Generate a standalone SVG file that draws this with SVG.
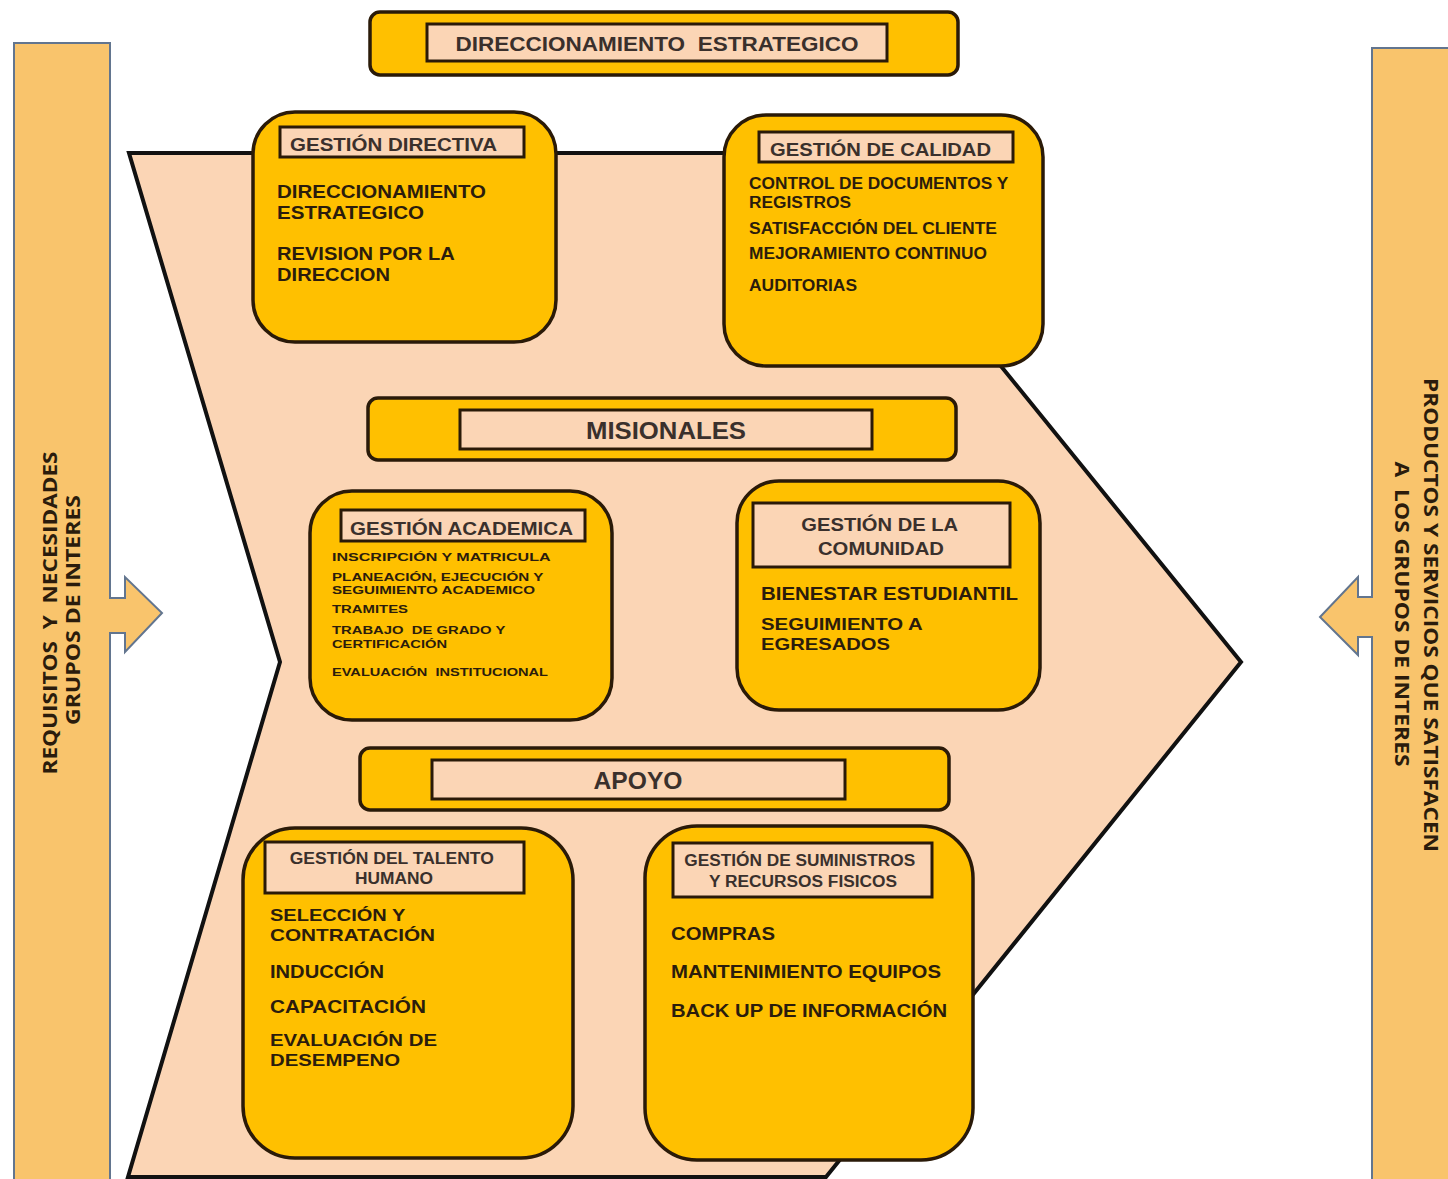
<svg xmlns="http://www.w3.org/2000/svg" width="1448" height="1179" viewBox="0 0 1448 1179">
<style>
.bar{fill:#F9C46C;stroke:#62758F;stroke-width:2}
.box{fill:#FFC000;stroke:#2A1A08;stroke-width:3.5}
.lab{fill:#FBD5B5;stroke:#2A1A08;stroke-width:3}
.t{font-family:"Liberation Sans",Arial,sans-serif;font-weight:bold;fill:#2B1C0C}
.h{font-family:"Liberation Sans",Arial,sans-serif;font-weight:bold;fill:#3A302C}
.s{font-family:"Open Sans","Liberation Sans",sans-serif;font-weight:bold;fill:#2B1C0C;font-size:20px;white-space:pre}
</style>
<rect width="1448" height="1179" fill="#FFFFFF"/>

<g id="left-bar">
<path class="bar" d="M14,43 H110 V598 H125 V577 L162,613 L125,652 V633 H110 V1185 H14 Z"/>
<text class="s" text-anchor="middle" transform="translate(57,613) rotate(-90)" textLength="323" lengthAdjust="spacingAndGlyphs">REQUISITOS  Y  NECESIDADES</text>
<text class="s" text-anchor="middle" transform="translate(80,610) rotate(-90)" textLength="230" lengthAdjust="spacingAndGlyphs">GRUPOS DE INTERES</text>
</g>

<g id="right-bar">
<path class="bar" d="M1372,48 H1455 V1185 H1372 V637 H1358 V655 L1320,617 L1358,577 V597 H1372 Z"/>
<text class="s" text-anchor="middle" transform="translate(1424,615) rotate(90)" textLength="474" lengthAdjust="spacingAndGlyphs">PRODUCTOS Y SERVICIOS QUE SATISFACEN</text>
<text class="s" text-anchor="middle" transform="translate(1395,614) rotate(90)" textLength="305" lengthAdjust="spacingAndGlyphs">A  LOS GRUPOS DE INTERES</text>
</g>

<g id="chevron">
<polygon points="129,153 828,153 1241,662 826,1177 128,1177 280,662" fill="#FBD5B5" stroke="#111" stroke-width="4" stroke-linejoin="miter"/>
</g>

<g id="connectors"></g>

<g id="direccionamiento-estrategico">
<rect class="box" x="370" y="12" width="588" height="63" rx="10"/>
<rect class="lab" x="427" y="24" width="460" height="37"/>
<text class="h" x="657" y="51" font-size="21" text-anchor="middle" textLength="403" lengthAdjust="spacingAndGlyphs" style="white-space:pre">DIRECCIONAMIENTO  ESTRATEGICO</text>
</g>

<g id="gestion-directiva">
<rect class="box" x="253" y="112" width="303" height="230" rx="42"/>
<rect class="lab" x="280" y="127" width="244" height="30"/>
<text class="h" x="290" y="151" font-size="19" textLength="207" lengthAdjust="spacingAndGlyphs">GESTIÓN DIRECTIVA</text>
<text class="t" font-size="18">
<tspan x="277" y="198" textLength="209" lengthAdjust="spacingAndGlyphs">DIRECCIONAMIENTO</tspan>
<tspan x="277" y="219" textLength="147" lengthAdjust="spacingAndGlyphs">ESTRATEGICO</tspan>
<tspan x="277" y="260" textLength="177" lengthAdjust="spacingAndGlyphs">REVISION POR LA</tspan>
<tspan x="277" y="281" textLength="113" lengthAdjust="spacingAndGlyphs">DIRECCION</tspan>
</text>
</g>

<g id="gestion-calidad">
<rect class="box" x="724" y="115" width="319" height="251" rx="42"/>
<rect class="lab" x="759" y="132" width="254" height="30"/>
<text class="h" x="770" y="156" font-size="19" textLength="221" lengthAdjust="spacingAndGlyphs">GESTIÓN DE CALIDAD</text>
<text class="t" font-size="16">
<tspan x="749" y="189" textLength="259" lengthAdjust="spacingAndGlyphs">CONTROL DE DOCUMENTOS Y</tspan>
<tspan x="749" y="208" textLength="102" lengthAdjust="spacingAndGlyphs">REGISTROS</tspan>
<tspan x="749" y="234" textLength="248" lengthAdjust="spacingAndGlyphs">SATISFACCIÓN DEL CLIENTE</tspan>
<tspan x="749" y="259" textLength="238" lengthAdjust="spacingAndGlyphs">MEJORAMIENTO CONTINUO</tspan>
<tspan x="749" y="291" textLength="108" lengthAdjust="spacingAndGlyphs">AUDITORIAS</tspan>
</text>
</g>

<g id="misionales">
<rect class="box" x="368" y="398" width="588" height="62" rx="10"/>
<rect class="lab" x="460" y="410" width="412" height="39"/>
<text class="h" x="666" y="439" font-size="24" text-anchor="middle" textLength="160" lengthAdjust="spacingAndGlyphs">MISIONALES</text>
</g>

<g id="gestion-academica">
<rect class="box" x="310" y="491" width="302" height="229" rx="42"/>
<rect class="lab" x="341" y="510" width="244" height="31"/>
<text class="h" x="350" y="535" font-size="19" textLength="223" lengthAdjust="spacingAndGlyphs">GESTIÓN ACADEMICA</text>
<text class="t" font-size="11.5">
<tspan x="332" y="561" textLength="218" lengthAdjust="spacingAndGlyphs">INSCRIPCIÓN Y MATRICULA</tspan>
<tspan x="332" y="581" textLength="211" lengthAdjust="spacingAndGlyphs">PLANEACIÓN, EJECUCIÓN Y</tspan>
<tspan x="332" y="594" textLength="203" lengthAdjust="spacingAndGlyphs">SEGUIMIENTO ACADEMICO</tspan>
<tspan x="332" y="613" textLength="76" lengthAdjust="spacingAndGlyphs">TRAMITES</tspan>
<tspan x="332" y="634" textLength="173" lengthAdjust="spacingAndGlyphs" style="white-space:pre">TRABAJO  DE GRADO Y</tspan>
<tspan x="332" y="648" textLength="115" lengthAdjust="spacingAndGlyphs">CERTIFICACIÓN</tspan>
<tspan x="332" y="676" textLength="216" lengthAdjust="spacingAndGlyphs" style="white-space:pre">EVALUACIÓN  INSTITUCIONAL</tspan>
</text>
</g>

<g id="gestion-comunidad">
<rect class="box" x="737" y="481" width="303" height="229" rx="42"/>
<rect class="lab" x="753" y="503" width="257" height="64"/>
<text class="h" font-size="19" text-anchor="middle">
<tspan x="882" y="531" textLength="156" lengthAdjust="spacingAndGlyphs">GESTIÓN DE LA</tspan>
<tspan x="881" y="555" textLength="126" lengthAdjust="spacingAndGlyphs">COMUNIDAD</tspan>
</text>
<text class="t" font-size="19">
<tspan x="761" y="600" textLength="257" lengthAdjust="spacingAndGlyphs">BIENESTAR ESTUDIANTIL</tspan>
</text>
<text class="t" font-size="17">
<tspan x="761" y="630" textLength="161" lengthAdjust="spacingAndGlyphs">SEGUIMIENTO A</tspan>
<tspan x="761" y="650" textLength="129" lengthAdjust="spacingAndGlyphs">EGRESADOS</tspan>
</text>
</g>

<g id="apoyo">
<rect class="box" x="360" y="748" width="589" height="62" rx="10"/>
<rect class="lab" x="432" y="760" width="413" height="39"/>
<text class="h" x="638" y="789" font-size="24" text-anchor="middle" textLength="89" lengthAdjust="spacingAndGlyphs">APOYO</text>
</g>

<g id="gestion-talento-humano">
<rect class="box" x="243" y="828" width="330" height="330" rx="52"/>
<rect class="lab" x="265" y="842" width="259" height="51"/>
<text class="h" font-size="16" text-anchor="middle">
<tspan x="394" y="864" textLength="204" lengthAdjust="spacingAndGlyphs">GESTIÓN DEL TALENTO</tspan>
<tspan x="394" y="884" textLength="78" lengthAdjust="spacingAndGlyphs">HUMANO</tspan>
</text>
<text class="t" font-size="17">
<tspan x="270" y="921" textLength="135" lengthAdjust="spacingAndGlyphs">SELECCIÓN Y</tspan>
<tspan x="270" y="941" textLength="165" lengthAdjust="spacingAndGlyphs">CONTRATACIÓN</tspan>
<tspan x="270" y="1046" textLength="167" lengthAdjust="spacingAndGlyphs">EVALUACIÓN DE</tspan>
<tspan x="270" y="1066" textLength="130" lengthAdjust="spacingAndGlyphs">DESEMPENO</tspan>
</text>
<text class="t" font-size="19">
<tspan x="270" y="978" textLength="114" lengthAdjust="spacingAndGlyphs">INDUCCIÓN</tspan>
<tspan x="270" y="1013" textLength="156" lengthAdjust="spacingAndGlyphs">CAPACITACIÓN</tspan>
</text>
</g>

<g id="gestion-suministros">
<rect class="box" x="645" y="826" width="328" height="334" rx="52"/>
<rect class="lab" x="673" y="843" width="259" height="54"/>
<text class="h" font-size="16" text-anchor="middle">
<tspan x="802" y="866" textLength="231" lengthAdjust="spacingAndGlyphs">GESTIÓN DE SUMINISTROS</tspan>
<tspan x="803" y="887" textLength="188" lengthAdjust="spacingAndGlyphs">Y RECURSOS FISICOS</tspan>
</text>
<text class="t" font-size="19">
<tspan x="671" y="940" textLength="104" lengthAdjust="spacingAndGlyphs">COMPRAS</tspan>
<tspan x="671" y="978" textLength="270" lengthAdjust="spacingAndGlyphs">MANTENIMIENTO EQUIPOS</tspan>
<tspan x="671" y="1017" textLength="276" lengthAdjust="spacingAndGlyphs">BACK UP DE INFORMACIÓN</tspan>
</text>
</g>
</svg>
